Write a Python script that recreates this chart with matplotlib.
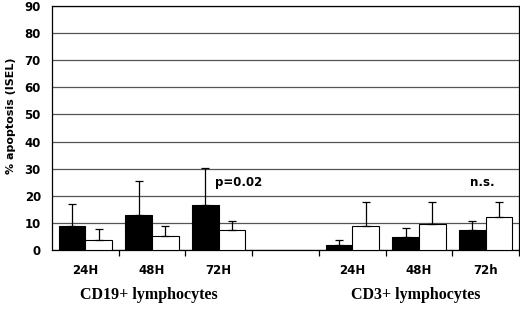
"""Apoptosis (ISEL) in CD19+ and CD3+ lymphocytes."""
import numpy as np
import matplotlib.pyplot as plt

# category slots: three time points, an empty gap, three time points
labels = ['24H', '48H', '72H', '', '24H', '48H', '72h']
black_vals = [8.8, 13.0, 16.8, np.nan, 2.0, 4.8, 7.4]
black_err = [8.2, 12.5, 13.5, np.nan, 2.0, 3.4, 3.3]
white_vals = [3.8, 5.2, 7.5, np.nan, 8.8, 9.8, 12.1]
white_err = [4.2, 3.8, 3.2, np.nan, 8.9, 8.0, 5.8]
group_names = ['CD19+ lymphocytes', 'CD3+ lymphocytes']
group_centers = [0.95, 4.95]
notes = [(2.3, 'p=0.02'), (5.95, 'n.s.')]


def main():
    fig = plt.figure(figsize=(5.2, 3.13), dpi=100)
    ax = fig.add_axes([0.1, 0.2, 0.898, 0.782])

    x = np.arange(len(labels))
    w = 0.4
    ax.bar(x - w / 2, black_vals, w, color='black', edgecolor='black',
           linewidth=0.8, zorder=3)
    ax.bar(x + w / 2, white_vals, w, color='white', edgecolor='black',
           linewidth=0.8, zorder=3)
    ekw = dict(fmt='none', ecolor='black', elinewidth=0.9, capsize=3,
               capthick=0.9, zorder=4)
    ax.errorbar(x - w / 2, black_vals, yerr=[np.zeros(len(x)), black_err], **ekw)
    ax.errorbar(x + w / 2, white_vals, yerr=[np.zeros(len(x)), white_err], **ekw)

    ax.set_xlim(-0.5, len(labels) - 0.5)
    ax.set_ylim(0, 90)
    ax.set_yticks(range(0, 91, 10))
    ax.yaxis.grid(True, color='#555555', linewidth=0.9, zorder=0)
    ax.tick_params(axis='y', length=0, pad=8)
    for t in ax.get_yticklabels():
        t.set_fontweight('bold')
        t.set_fontsize(8.5)

    ax.set_xticks(x + 0.5, minor=False)
    ax.set_xticklabels([])
    ax.tick_params(axis='x', which='major', length=4, width=0.9, direction='out')
    ax.set_xticks(x, minor=True)
    ax.set_xticklabels(labels, minor=True, fontweight='bold', fontsize=8.5)
    ax.tick_params(axis='x', which='minor', length=0, pad=10)

    for s in ax.spines.values():
        s.set_linewidth(0.9)

    ax.set_ylabel('% apoptosis (ISEL)', fontweight='bold', fontsize=8)
    ax.yaxis.set_label_coords(-0.078, 0.55)

    for xi, txt in notes:
        ax.text(xi, 24.8, txt, ha='center', va='center', fontweight='bold',
                fontsize=8.5)

    for xc, name in zip(group_centers, group_names):
        xf = (xc + 0.5) / len(labels)
        fig.text(0.1 + 0.898 * xf, 0.058, name, ha='center', va='center',
                 family='Liberation Serif', fontweight='bold', fontsize=11.5)

    fig.savefig('out.png', dpi=100)


if __name__ == '__main__':
    main()
